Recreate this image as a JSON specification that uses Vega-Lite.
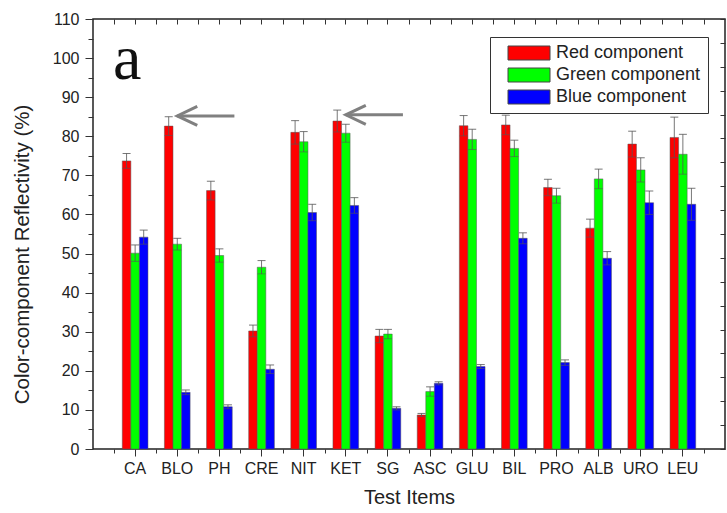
{
  "$schema": "https://vega.github.io/schema/vega-lite/v6.json",
  "width": 632,
  "height": 430,
  "autosize": "none",
  "padding": {"left": 93, "top": 19, "right": 2, "bottom": 64},
  "config": {
    "view": {"stroke": "#222", "strokeWidth": 1.5},
    "font": "Liberation Sans",
    "axis": {"domain": false, "grid": false, "labelColor": "#222", "titleColor": "#222", "tickColor": "#333", "labelFont": "Liberation Sans", "titleFont": "Liberation Sans"}
  },
  "datasets": {
    "bars": [
      {"item": "CA", "component": "Red component", "value": 73.7, "lo": 71.8, "hi": 75.6},
      {"item": "CA", "component": "Green component", "value": 50.1, "lo": 48.0, "hi": 52.2},
      {"item": "CA", "component": "Blue component", "value": 54.2, "lo": 52.4, "hi": 56.0},
      {"item": "BLO", "component": "Red component", "value": 82.6, "lo": 80.2, "hi": 85.0},
      {"item": "BLO", "component": "Green component", "value": 52.4, "lo": 50.9, "hi": 53.9},
      {"item": "BLO", "component": "Blue component", "value": 14.5, "lo": 13.9, "hi": 15.1},
      {"item": "PH", "component": "Red component", "value": 66.1, "lo": 63.7, "hi": 68.5},
      {"item": "PH", "component": "Green component", "value": 49.5, "lo": 47.8, "hi": 51.2},
      {"item": "PH", "component": "Blue component", "value": 10.8, "lo": 10.3, "hi": 11.3},
      {"item": "CRE", "component": "Red component", "value": 30.2, "lo": 28.7, "hi": 31.7},
      {"item": "CRE", "component": "Green component", "value": 46.5, "lo": 44.8, "hi": 48.2},
      {"item": "CRE", "component": "Blue component", "value": 20.4, "lo": 19.3, "hi": 21.5},
      {"item": "NIT", "component": "Red component", "value": 81.0, "lo": 78.0, "hi": 84.0},
      {"item": "NIT", "component": "Green component", "value": 78.6, "lo": 76.0, "hi": 81.2},
      {"item": "NIT", "component": "Blue component", "value": 60.5, "lo": 58.4, "hi": 62.6},
      {"item": "KET", "component": "Red component", "value": 83.9, "lo": 81.1, "hi": 86.7},
      {"item": "KET", "component": "Green component", "value": 80.8, "lo": 78.5, "hi": 83.1},
      {"item": "KET", "component": "Blue component", "value": 62.3, "lo": 60.3, "hi": 64.3},
      {"item": "SG", "component": "Red component", "value": 28.9, "lo": 27.2, "hi": 30.6},
      {"item": "SG", "component": "Green component", "value": 29.4, "lo": 28.2, "hi": 30.6},
      {"item": "SG", "component": "Blue component", "value": 10.4, "lo": 10.0, "hi": 10.8},
      {"item": "ASC", "component": "Red component", "value": 8.7, "lo": 8.3, "hi": 9.1},
      {"item": "ASC", "component": "Green component", "value": 14.7, "lo": 13.5, "hi": 15.9},
      {"item": "ASC", "component": "Blue component", "value": 16.8, "lo": 16.4, "hi": 17.2},
      {"item": "GLU", "component": "Red component", "value": 82.7, "lo": 80.1, "hi": 85.3},
      {"item": "GLU", "component": "Green component", "value": 79.2, "lo": 76.6, "hi": 81.8},
      {"item": "GLU", "component": "Blue component", "value": 21.1, "lo": 20.6, "hi": 21.6},
      {"item": "BIL", "component": "Red component", "value": 82.9, "lo": 80.4, "hi": 85.4},
      {"item": "BIL", "component": "Green component", "value": 76.9, "lo": 74.8, "hi": 79.0},
      {"item": "BIL", "component": "Blue component", "value": 53.9, "lo": 52.5, "hi": 55.3},
      {"item": "PRO", "component": "Red component", "value": 66.9, "lo": 64.8, "hi": 69.0},
      {"item": "PRO", "component": "Green component", "value": 64.8, "lo": 62.9, "hi": 66.7},
      {"item": "PRO", "component": "Blue component", "value": 22.1, "lo": 21.4, "hi": 22.8},
      {"item": "ALB", "component": "Red component", "value": 56.5, "lo": 54.2, "hi": 58.8},
      {"item": "ALB", "component": "Green component", "value": 69.1, "lo": 66.6, "hi": 71.6},
      {"item": "ALB", "component": "Blue component", "value": 48.8, "lo": 47.1, "hi": 50.5},
      {"item": "URO", "component": "Red component", "value": 78.0, "lo": 74.7, "hi": 81.3},
      {"item": "URO", "component": "Green component", "value": 71.4, "lo": 68.3, "hi": 74.5},
      {"item": "URO", "component": "Blue component", "value": 63.0, "lo": 60.0, "hi": 66.0},
      {"item": "LEU", "component": "Red component", "value": 79.7, "lo": 74.5, "hi": 84.9},
      {"item": "LEU", "component": "Green component", "value": 75.4, "lo": 70.3, "hi": 80.5},
      {"item": "LEU", "component": "Blue component", "value": 62.6, "lo": 58.5, "hi": 66.7}
    ],
    "arrows": [
      {"item": "BLO", "end": "PH", "y": 85.2},
      {"item": "KET", "end": "SG", "y": 85.5}
    ],
    "panel": [
      {"item": "CA", "y": 94.7, "label": "a"}
    ]
  },
  "layer": [
    {
      "data": {"name": "bars"},
      "mark": {"type": "bar", "stroke": "#555", "strokeWidth": 0.5},
      "encoding": {
        "x": {"field": "item", "type": "nominal",
          "scale": {"domain": ["CA","BLO","PH","CRE","NIT","KET","SG","ASC","GLU","BIL","PRO","ALB","URO","LEU"], "paddingInner": 0, "paddingOuter": 0.5},
          "axis": {"orient": "bottom", "title": "Test Items", "labelAngle": 0, "labelFontSize": 16, "labelPadding": 4, "tickSize": 7, "titleFontSize": 20, "titleFontWeight": "normal", "titlePadding": 11}},
        "xOffset": {"field": "component", "type": "nominal",
          "scale": {"domain": ["Red component", "Green component", "Blue component"], "paddingInner": 0, "paddingOuter": 0.96}},
        "y": {"field": "value", "type": "quantitative",
          "scale": {"domain": [0, 110], "nice": false},
          "axis": {"orient": "left", "values": [0,5,10,15,20,25,30,35,40,45,50,55,60,65,70,75,80,85,90,95,100,105,110],
            "labelExpr": "datum.value % 10 === 0 ? datum.label : ''",
            "tickSize": {"condition": {"test": "datum.value % 10 === 0", "value": 8}, "value": 5},
            "labelFontSize": 16, "labelPadding": 6,
            "title": "Color-component Reflectivity (%)", "titleFontSize": 20.5, "titleFontWeight": "normal", "titlePadding": 20, "titleY": 235}},
        "color": {"field": "component", "type": "nominal",
          "scale": {"domain": ["Red component", "Green component", "Blue component"], "range": ["#ff0000", "#00ff00", "#0000ff"]},
          "legend": {"orient": "none", "legendX": 397, "legendY": 18, "title": null,
            "symbolType": "M-3,-1H3V1H-3Z", "symbolSize": 196, "symbolStrokeColor": "#444", "symbolStrokeWidth": 1, "symbolOpacity": 1,
            "labelFontSize": 18, "labelFont": "Liberation Sans", "labelColor": "#222",
            "padding": 7, "rowPadding": 4, "symbolOffset": 23, "labelOffset": 18,
            "strokeColor": "#333", "fillColor": "white"}}
      }
    },
    {
      "data": {"name": "bars"},
      "mark": {"type": "rule", "color": "#555", "strokeWidth": 1, "opacity": 0.8},
      "encoding": {
        "x": {"field": "item", "type": "nominal",
          "scale": {"domain": ["CA","BLO","PH","CRE","NIT","KET","SG","ASC","GLU","BIL","PRO","ALB","URO","LEU"], "paddingInner": 0, "paddingOuter": 0.5}, "axis": null},
        "xOffset": {"field": "component", "type": "nominal",
          "scale": {"domain": ["Red component", "Green component", "Blue component"], "paddingInner": 0, "paddingOuter": 0.96}},
        "y": {"field": "lo", "type": "quantitative", "scale": {"domain": [0, 110], "nice": false}, "axis": null},
        "y2": {"field": "hi"}
      }
    },
    {
      "data": {"name": "bars"},
      "mark": {"type": "tick", "color": "#555", "thickness": 1, "size": 8, "opacity": 0.8},
      "encoding": {
        "x": {"field": "item", "type": "nominal",
          "scale": {"domain": ["CA","BLO","PH","CRE","NIT","KET","SG","ASC","GLU","BIL","PRO","ALB","URO","LEU"], "paddingInner": 0, "paddingOuter": 0.5}, "axis": null},
        "xOffset": {"field": "component", "type": "nominal",
          "scale": {"domain": ["Red component", "Green component", "Blue component"], "paddingInner": 0, "paddingOuter": 0.96}},
        "y": {"field": "hi", "type": "quantitative", "scale": {"domain": [0, 110], "nice": false}, "axis": null}
      }
    },
    {
      "data": {"name": "bars"},
      "mark": {"type": "tick", "color": "#555", "thickness": 1, "size": 8, "opacity": 0.6},
      "encoding": {
        "x": {"field": "item", "type": "nominal",
          "scale": {"domain": ["CA","BLO","PH","CRE","NIT","KET","SG","ASC","GLU","BIL","PRO","ALB","URO","LEU"], "paddingInner": 0, "paddingOuter": 0.5}, "axis": null},
        "xOffset": {"field": "component", "type": "nominal",
          "scale": {"domain": ["Red component", "Green component", "Blue component"], "paddingInner": 0, "paddingOuter": 0.96}},
        "y": {"field": "lo", "type": "quantitative", "scale": {"domain": [0, 110], "nice": false}, "axis": null}
      }
    },
    {
      "data": {"name": "panel"},
      "mark": {"type": "text", "font": "Liberation Serif", "fontSize": 64, "dx": -8, "align": "center", "baseline": "alphabetic", "color": "#111"},
      "encoding": {
        "x": {"field": "item", "type": "nominal",
          "scale": {"domain": ["CA","BLO","PH","CRE","NIT","KET","SG","ASC","GLU","BIL","PRO","ALB","URO","LEU"], "paddingInner": 0, "paddingOuter": 0.5},
          "axis": {"orient": "top", "labels": false, "title": null, "tickSize": -5}},
        "y": {"field": "y", "type": "quantitative", "scale": {"domain": [0, 110], "nice": false},
          "axis": {"orient": "right", "labels": false, "title": null, "tickSize": -5,
            "values": [0, 6.111, 12.222, 18.333, 24.444, 30.556, 36.667, 42.778, 48.889, 55, 61.111, 67.222, 73.333, 79.444, 85.556, 91.667, 97.778, 103.889, 110]}},
        "text": {"field": "label"}
      }
    },
    {
      "data": {"name": "arrows"},
      "mark": {"type": "rule", "color": "#808080", "strokeWidth": 3, "x2Offset": 15},
      "encoding": {
        "x": {"field": "item", "type": "nominal",
          "scale": {"domain": ["CA","BLO","PH","CRE","NIT","KET","SG","ASC","GLU","BIL","PRO","ALB","URO","LEU"], "paddingInner": 0, "paddingOuter": 0.5},
          "axis": {"orient": "bottom", "tickBand": "extent", "labels": false, "title": null, "tickSize": 4}},
        "x2": {"field": "end"},
        "y": {"field": "y", "type": "quantitative", "scale": {"domain": [0, 110], "nice": false}, "axis": null}
      }
    },
    {
      "data": {"name": "arrows"},
      "mark": {"type": "point", "shape": "M1,-0.475L0,0L1,0.475", "filled": false, "stroke": "#808080", "strokeWidth": 3, "size": 1600, "opacity": 1},
      "encoding": {
        "x": {"field": "item", "type": "nominal",
          "scale": {"domain": ["CA","BLO","PH","CRE","NIT","KET","SG","ASC","GLU","BIL","PRO","ALB","URO","LEU"], "paddingInner": 0, "paddingOuter": 0.5},
          "axis": {"orient": "top", "tickBand": "extent", "labels": false, "title": null, "tickSize": -5}},
        "y": {"field": "y", "type": "quantitative", "scale": {"domain": [0, 110], "nice": false}, "axis": null}
      }
    }
  ],
  "resolve": {"axis": {"x": "independent", "y": "independent"}}
}
